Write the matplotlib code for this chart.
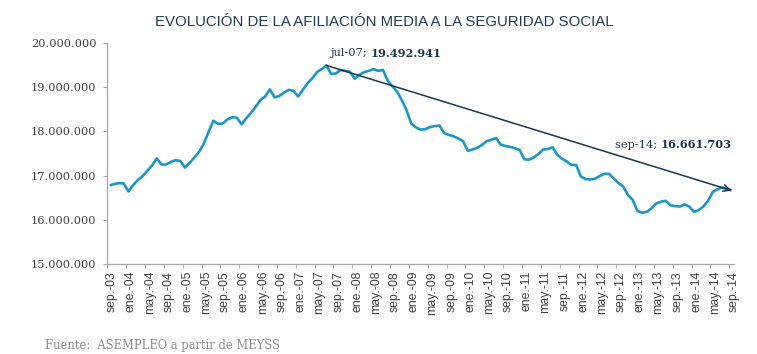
import matplotlib
matplotlib.use("Agg")
import matplotlib.pyplot as plt
import numpy as np

# Monthly average affiliation (millions), sep-03 .. sep-14
values_m = [
    16.78, 16.81, 16.83, 16.82,                                                   # sep-dec 03
    16.64, 16.79, 16.90, 16.99, 17.11, 17.23, 17.39, 17.25, 17.25, 17.31, 17.35, 17.33,  # 04
    17.18, 17.29, 17.41, 17.54, 17.73, 17.99, 18.24, 18.17, 18.18, 18.27, 18.32, 18.31,  # 05
    18.16, 18.30, 18.42, 18.56, 18.71, 18.79, 18.95, 18.77, 18.80, 18.88, 18.94, 18.92,  # 06
    18.79, 18.94, 19.09, 19.20, 19.34, 19.41, 19.492941, 19.30, 19.31, 19.39, 19.37, 19.35,  # 07
    19.19, 19.28, 19.34, 19.37, 19.41, 19.37, 19.39, 19.15, 19.02, 18.90, 18.71, 18.48,  # 08
    18.18, 18.09, 18.04, 18.05, 18.10, 18.12, 18.13, 17.96, 17.92, 17.89, 17.84, 17.78,  # 09
    17.56, 17.59, 17.63, 17.69, 17.78, 17.81, 17.85, 17.70, 17.67, 17.65, 17.62, 17.58,  # 10
    17.37, 17.36, 17.41, 17.49, 17.59, 17.60, 17.64, 17.47, 17.38, 17.32, 17.24, 17.24,  # 11
    16.98, 16.92, 16.91, 16.93, 16.99, 17.04, 17.04, 16.93, 16.83, 16.75, 16.56, 16.45,  # 12
    16.20, 16.16, 16.18, 16.26, 16.37, 16.41, 16.43, 16.33, 16.31, 16.30, 16.35, 16.30,  # 13
    16.18, 16.22, 16.30, 16.43, 16.63, 16.69, 16.73, 16.70, 16.661703,                   # 14
]
values = np.array(values_m) * 1e6

tick_labels = ["sep.-03", "ene.-04", "may.-04", "sep.-04", "ene.-05", "may.-05", "sep.-05",
               "ene.-06", "may.-06", "sep.-06", "ene.-07", "may.-07", "sep.-07", "ene.-08",
               "may.-08", "sep.-08", "ene.-09", "may.-09", "sep.-09", "ene.-10", "may.-10",
               "sep.-10", "ene.-11", "may.-11", "sep.-11", "ene.-12", "may.-12", "sep.-12",
               "ene.-13", "may.-13", "sep.-13", "ene.-14", "may.-14", "sep.-14"]
label_step = 4

peak_idx = 46
peak_label = ("jul-07; ", "19.492.941")
last_label = ("sep-14; ", "16.661.703")

title = "EVOLUCIÓN DE LA AFILIACIÓN MEDIA A LA SEGURIDAD SOCIAL"
source = "Fuente:  ASEMPLEO a partir de MEYSS"

yticks = [15e6, 16e6, 17e6, 18e6, 19e6, 20e6]

def fmt(v):
    return f"{int(round(v)):,}".replace(",", ".")

LINE = "#1a96cf"
NAVY = "#1c3552"
AX = "#a6a6a6"
TXT = "#404040"

fig = plt.figure(figsize=(7.57, 3.54), dpi=100)
ax = fig.add_axes([107.3 / 757, (354 - 264) / 354, (734 - 107.3) / 757, (264 - 43) / 354])

x = np.arange(len(values))
ax.plot(x, values, color=LINE, lw=1.9, solid_joinstyle="round", solid_capstyle="butt", zorder=3)

ax.set_xlim(-0.5, len(values) - 0.5)
ax.set_ylim(yticks[0], yticks[-1])

# tick marks at category boundaries, labels at category centres
n_lab = len(tick_labels)
ax.set_xticks([k * label_step - 0.5 for k in range(n_lab)])
ax.set_xticklabels([])
ax.set_xticks([k * label_step + 0.5 for k in range(n_lab)], minor=True)
ax.set_xticklabels(tick_labels, minor=True, rotation=90, fontsize=8.8,
                   family="Liberation Sans", color=TXT)
ax.tick_params(axis="x", which="major", length=3, color=AX, width=0.8, direction="out")
ax.tick_params(axis="x", which="minor", length=0, pad=5)

ax.set_yticks(yticks)
ax.set_yticklabels([fmt(v) for v in yticks], fontsize=8.2, family="DejaVu Serif", color=TXT)
ax.tick_params(axis="y", length=3, color=AX, width=0.8, pad=5)

for s in ["top", "right"]:
    ax.spines[s].set_visible(False)
for s in ["left", "bottom"]:
    ax.spines[s].set_color(AX)
    ax.spines[s].set_linewidth(0.9)

# trend arrow
ax.annotate("", xy=(x[-1], values[-1]), xytext=(peak_idx, values[peak_idx]),
            arrowprops=dict(arrowstyle="->", color=NAVY, lw=1.1, shrinkA=0, shrinkB=0,
                            mutation_scale=12), zorder=4)

fig.canvas.draw()
r = fig.canvas.get_renderer()
# peak label: left aligned
t1 = ax.annotate(peak_label[0], xy=(peak_idx, values[peak_idx]), xytext=(4, 12),
                 textcoords="offset pixels", fontsize=8.2, family="DejaVu Serif",
                 color=NAVY, ha="left", va="center")
fig.canvas.draw()
w1 = t1.get_window_extent(r).width
ax.annotate(peak_label[1], xy=(peak_idx, values[peak_idx]), xytext=(4 + w1, 12),
            textcoords="offset pixels", fontsize=8.2, family="DejaVu Serif",
            fontweight="bold", color=NAVY, ha="left", va="center")

# last label: right aligned
t2 = ax.annotate(last_label[1], xy=(x[-1], values[-1]), xytext=(0, 46),
                 textcoords="offset pixels", fontsize=8.2, family="DejaVu Serif",
                 fontweight="bold", color=NAVY, ha="right", va="center")
fig.canvas.draw()
w2 = t2.get_window_extent(r).width
ax.annotate(last_label[0], xy=(x[-1], values[-1]), xytext=(-w2, 46),
            textcoords="offset pixels", fontsize=8.2, family="DejaVu Serif",
            color=NAVY, ha="right", va="center")

fig.text(384 / 757, 1 - 22 / 354, title, ha="center", va="center", fontsize=10.8,
         family="Liberation Sans", color="#1f3d5c")
fig.text(45 / 757, 1 - 345 / 354, source, ha="left", va="center", fontsize=8.3,
         family="DejaVu Serif", color="#8c8c8c")

fig.savefig("out.png", dpi=100)
